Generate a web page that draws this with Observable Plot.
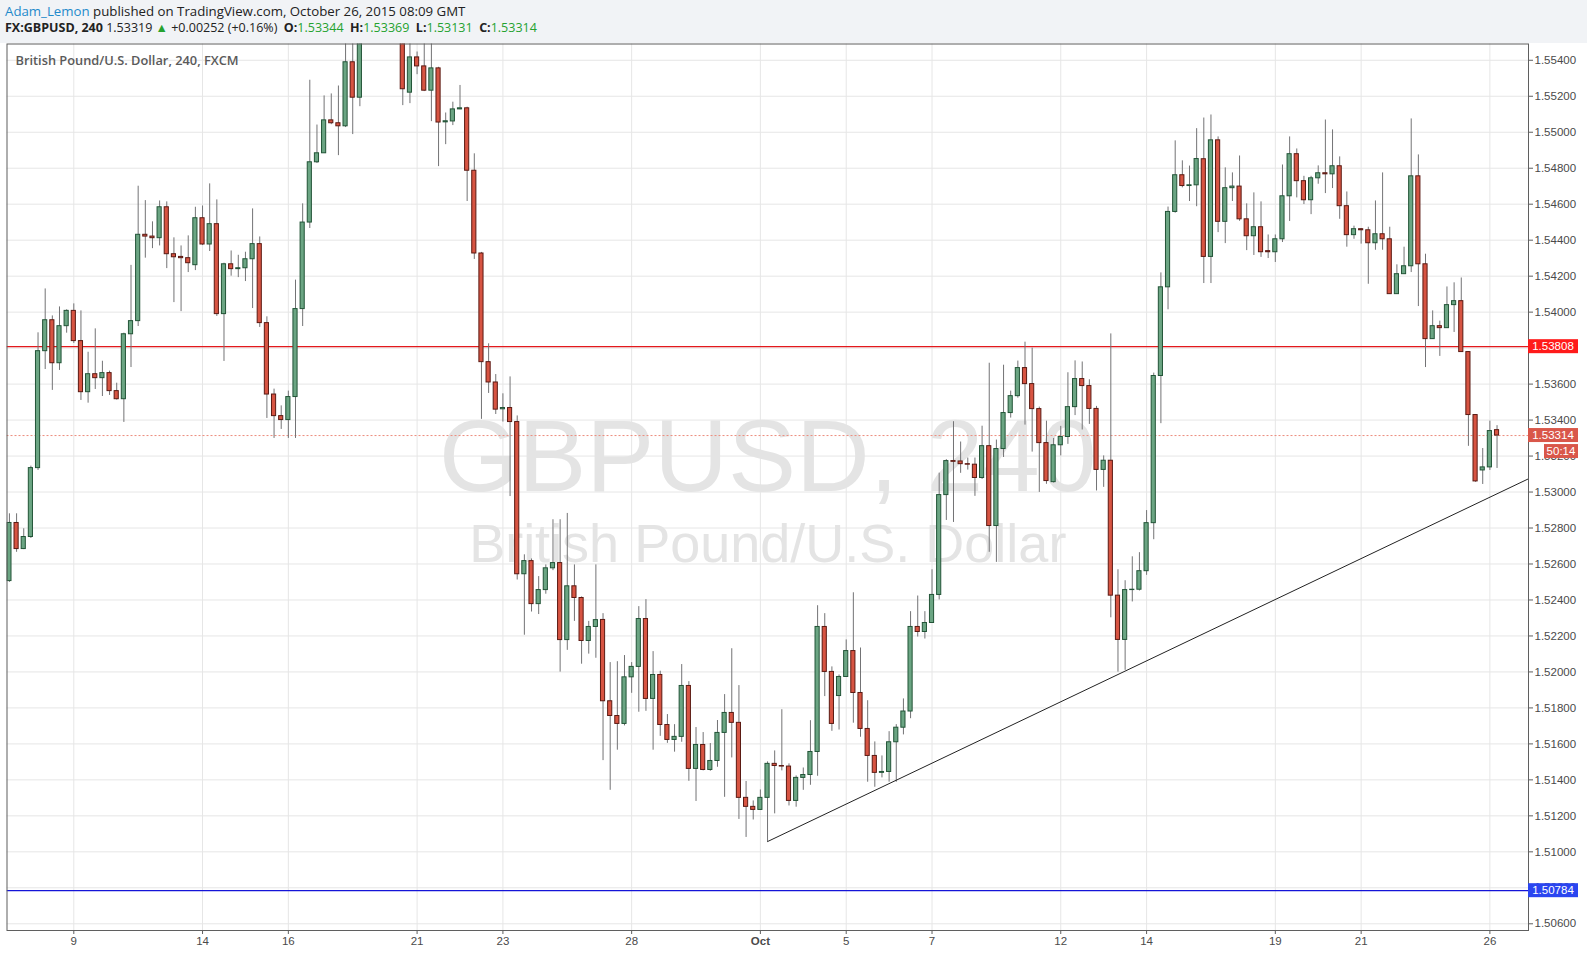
<!DOCTYPE html>
<html><head><meta charset="utf-8">
<script src="https://cdn.jsdelivr.net/npm/d3@7"></script>
<script src="https://cdn.jsdelivr.net/npm/@observablehq/plot@0.6"></script>
<style>
html,body{margin:0;padding:0;background:#f1f3f6;width:1587px;height:961px;overflow:hidden;}
#hdr{position:absolute;left:0;top:0;width:1587px;height:43px;font-family:"Open Sans",sans-serif;color:#222;white-space:nowrap;}
#l1{position:absolute;left:5px;top:2px;font-size:13.25px;}
#l2{position:absolute;left:5px;top:19px;font-size:12.5px;}
#l2 b{font-weight:700;}
.g{color:#25a22f;}
#chart{position:absolute;left:0;top:43px;}
</style></head><body>
<div id="hdr">
<div id="l1"><span style="color:#1f8acb">Adam_Lemon</span> published on TradingView.com, October 26, 2015 08:09 GMT</div>
<div id="l2"><b>FX:GBPUSD, 240</b> 1.53319 <span class="g">▲</span> +0.00252 (+0.16%) &nbsp;<b>O:</b><span class="g">1.53344</span> &nbsp;<b>H:</b><span class="g">1.53369</span> &nbsp;<b>L:</b><span class="g">1.53131</span> &nbsp;<b>C:</b><span class="g">1.53314</span></div>
</div>
<div id="chart"></div>
<script>
// ---- data: 4h candles, bar index = position in array ----
const opens = [
1.52505,1.52828,1.52683,1.52750,1.53133,1.53783,1.53955,1.53716,1.53922,1.54007,
1.53839,1.53555,1.53655,1.53633,1.53661,1.53561,1.53516,1.53877,1.53950,1.54430,
1.54420,1.54411,1.54583,1.54322,1.54307,1.54300,1.54261,1.54522,1.54376,1.54489,
1.53989,1.54266,1.54239,1.54244,1.54294,1.54378,1.53939,1.53542,1.53422,1.53400,
1.53528,1.54017,1.54498,1.54833,1.54883,1.55066,1.55050,1.55033,1.55389,1.55192,
1.55750,1.56050,1.56300,1.56000,1.55700,1.55560,1.55220,1.55416,1.55366,1.55231,
1.55355,1.55055,1.55060,1.55127,1.55133,1.54786,1.54326,1.53722,1.53609,1.53460,
1.53467,1.53389,1.52543,1.52616,1.52377,1.52455,1.52576,1.52605,1.52177,1.52476,
1.52411,1.52172,1.52250,1.52289,1.51837,1.51755,1.51711,1.51970,1.52028,1.52294,
1.51850,1.51983,1.51705,1.51622,1.51639,1.51922,1.51461,1.51594,1.51455,1.51505,
1.51661,1.51772,1.51717,1.51300,1.51250,1.51233,1.51300,1.51489,1.51477,1.51474,
1.51283,1.51411,1.51427,1.51555,1.52250,1.52000,1.51866,1.51972,1.52116,1.51883,
1.51683,1.51533,1.51439,1.51444,1.51609,1.51690,1.51780,1.52250,1.52222,1.52272,
1.52428,1.52983,1.53172,1.53170,1.53155,1.53152,1.53078,1.53255,1.52811,1.53239,
1.53439,1.53533,1.53689,1.53600,1.53461,1.53272,1.53055,1.53260,1.53306,1.53472,
1.53628,1.53589,1.53462,1.53123,1.53174,1.52424,1.52178,1.52455,1.52457,1.52560,
1.52827,1.53645,1.54138,1.54557,1.54761,1.54701,1.54705,1.54850,1.54307,1.54955,
1.54502,1.54689,1.54698,1.54516,1.54422,1.54472,1.54339,1.54333,1.54405,1.54644,
1.54878,1.54728,1.54622,1.54744,1.54772,1.54766,1.54811,1.54589,1.54428,1.54461,
1.54455,1.54383,1.54433,1.54405,1.54100,1.54211,1.54255,1.54755,1.54266,1.53850,
1.53922,1.53911,1.54039,1.54061,1.53778,1.53428,1.53120,1.53137,1.53344
];
const highs = [
1.52879,1.52879,1.52796,1.53144,1.53885,1.54129,1.53979,1.54029,1.54013,1.54046,
1.54007,1.53777,1.53907,1.53727,1.53672,1.53605,1.53883,1.54260,1.54700,1.54620,
1.54502,1.54618,1.54613,1.54413,1.54368,1.54424,1.54583,1.54590,1.54713,1.54624,
1.54272,1.54340,1.54316,1.54333,1.54574,1.54418,1.53974,1.53572,1.53479,1.53561,
1.54178,1.54602,1.55289,1.55040,1.55202,1.55213,1.55257,1.55600,1.55600,1.55900,
1.56200,1.56590,1.56400,1.56100,1.55800,1.55620,1.55530,1.55446,1.55520,1.55530,
1.55361,1.55107,1.55167,1.55260,1.55139,1.54880,1.54332,1.53824,1.53653,1.53546,
1.53640,1.53423,1.52651,1.52628,1.52530,1.52595,1.52846,1.52846,1.52881,1.52595,
1.52417,1.52281,1.52595,1.52324,1.52052,1.52057,1.52091,1.52052,1.52363,1.52402,
1.52113,1.52004,1.51763,1.51707,1.52041,1.51946,1.51691,1.51663,1.51602,1.51730,
1.51874,1.52129,1.51924,1.51391,1.51283,1.51344,1.51500,1.51561,1.51790,1.51489,
1.51422,1.51466,1.51729,1.52368,1.52324,1.52028,1.51983,1.52178,1.52440,1.52133,
1.51840,1.51611,1.51533,1.51668,1.51707,1.51850,1.52335,1.52422,1.52335,1.52568,
1.53105,1.53180,1.53391,1.53278,1.53189,1.53189,1.53366,1.53716,1.53289,1.53705,
1.53561,1.53728,1.53833,1.53800,1.53472,1.53394,1.53298,1.53365,1.53663,1.53729,
1.53723,1.53624,1.53476,1.53201,1.53879,1.52568,1.52507,1.52640,1.52663,1.52897,
1.53661,1.54218,1.54584,1.54952,1.54841,1.54812,1.55020,1.55079,1.55096,1.54974,
1.54802,1.54774,1.54868,1.54602,1.54663,1.54613,1.54429,1.54429,1.54818,1.54974,
1.54907,1.54755,1.54755,1.54813,1.55068,1.55013,1.54863,1.54668,1.54478,1.54465,
1.54472,1.54618,1.54774,1.54472,1.54263,1.54361,1.55074,1.54874,1.54322,1.54007,
1.53950,1.54140,1.54163,1.54190,1.53780,1.53430,1.53242,1.53394,1.53369
];
const lows = [
1.52498,1.52665,1.52680,1.52742,1.53120,1.53681,1.53565,1.53676,1.53883,1.53826,
1.53509,1.53494,1.53570,1.53531,1.53537,1.53511,1.53387,1.53692,1.53920,1.54300,
1.54353,1.54368,1.54242,1.54053,1.54003,1.54220,1.54231,1.54370,1.54337,1.53976,
1.53726,1.54200,1.54192,1.54170,1.54020,1.53915,1.53409,1.53298,1.53348,1.53298,
1.53298,1.53920,1.54465,1.54826,1.54883,1.55042,1.54870,1.55026,1.54987,1.55142,
1.55650,1.55950,1.55850,1.55600,1.55520,1.55148,1.55159,1.55320,1.55226,1.55059,
1.54809,1.54931,1.55037,1.55125,1.54615,1.54293,1.53404,1.53548,1.53431,1.53389,
1.52975,1.52511,1.52204,1.52333,1.52319,1.52432,1.52563,1.51999,1.52120,1.52281,
1.52043,1.52099,1.52076,1.51507,1.51342,1.51565,1.51700,1.51881,1.51776,1.51781,
1.51565,1.51642,1.51603,1.51554,1.51609,1.51392,1.51280,1.51450,1.51448,1.51470,
1.51303,1.51522,1.51180,1.51080,1.51177,1.51230,1.51057,1.51211,1.51450,1.51255,
1.51248,1.51342,1.51370,1.51420,1.51863,1.51670,1.51677,1.51970,1.51715,1.51637,
1.51387,1.51359,1.51411,1.51387,1.51387,1.51650,1.51740,1.52194,1.52183,1.52270,
1.52400,1.52842,1.52831,1.53104,1.53122,1.52976,1.53070,1.52665,1.52609,1.53192,
1.53411,1.53522,1.53372,1.53222,1.52998,1.53043,1.53050,1.53201,1.53265,1.53425,
1.53345,1.53376,1.53006,1.53026,1.52301,1.51999,1.52009,1.52389,1.52450,1.52537,
1.52735,1.53380,1.54013,1.54550,1.54691,1.54615,1.54586,1.54159,1.54159,1.54442,
1.54381,1.54615,1.54505,1.54342,1.54315,1.54304,1.54298,1.54276,1.54387,1.54504,
1.54635,1.54598,1.54542,1.54711,1.54659,1.54687,1.54516,1.54361,1.54405,1.54378,
1.54155,1.54344,1.54344,1.54100,1.54098,1.54209,1.54220,1.54031,1.53692,1.53848,
1.53754,1.53909,1.53887,1.53778,1.53254,1.53054,1.53042,1.53120,1.53131
];
const closes = [
1.52828,1.52683,1.52750,1.53133,1.53783,1.53955,1.53716,1.53922,1.54007,1.53839,
1.53555,1.53655,1.53633,1.53661,1.53561,1.53516,1.53877,1.53950,1.54430,1.54420,
1.54411,1.54583,1.54322,1.54305,1.54300,1.54272,1.54522,1.54376,1.54489,1.53989,
1.54266,1.54239,1.54244,1.54294,1.54378,1.53939,1.53542,1.53422,1.53400,1.53528,
1.54017,1.54498,1.54833,1.54883,1.55066,1.55050,1.55033,1.55389,1.55192,1.55750,
1.56050,1.56300,1.56000,1.55700,1.55560,1.55239,1.55416,1.55366,1.55231,1.55355,
1.55054,1.55061,1.55127,1.55133,1.54786,1.54326,1.53722,1.53609,1.53458,1.53467,
1.53389,1.52543,1.52616,1.52377,1.52455,1.52576,1.52605,1.52177,1.52476,1.52411,
1.52172,1.52250,1.52288,1.51837,1.51755,1.51711,1.51970,1.52028,1.52294,1.51850,
1.51983,1.51705,1.51622,1.51639,1.51922,1.51461,1.51594,1.51455,1.51505,1.51661,
1.51772,1.51717,1.51300,1.51250,1.51233,1.51300,1.51489,1.51477,1.51474,1.51283,
1.51411,1.51427,1.51555,1.52250,1.52000,1.51711,1.51972,1.52116,1.51883,1.51683,
1.51533,1.51439,1.51444,1.51609,1.51690,1.51780,1.52250,1.52222,1.52272,1.52428,
1.52983,1.53172,1.53168,1.53155,1.53152,1.53078,1.53255,1.52811,1.53239,1.53439,
1.53533,1.53689,1.53600,1.53461,1.53272,1.53061,1.53260,1.53306,1.53472,1.53628,
1.53589,1.53462,1.53123,1.53174,1.52424,1.52178,1.52455,1.52457,1.52560,1.52827,
1.53645,1.54138,1.54557,1.54761,1.54701,1.54705,1.54851,1.54307,1.54955,1.54502,
1.54689,1.54698,1.54516,1.54422,1.54472,1.54333,1.54333,1.54405,1.54644,1.54878,
1.54728,1.54622,1.54744,1.54772,1.54766,1.54811,1.54589,1.54428,1.54461,1.54455,
1.54383,1.54433,1.54405,1.54100,1.54211,1.54255,1.54755,1.54266,1.53850,1.53922,
1.53911,1.54039,1.54061,1.53778,1.53428,1.53059,1.53137,1.53339,1.53314
];
// day-label ticks (bar index of first bar of the trading day)
const tickBars   = [9, 27, 39, 57, 69, 87, 105, 117, 129, 147, 159, 177, 189, 207];
const tickLabels = ["9","14","16","21","23","28","Oct","5","7","12","14","19","21","26"];
const priceTicks = [1.506,1.508,1.510,1.512,1.514,1.516,1.518,1.520,1.522,1.524,1.526,1.528,1.530,
                    1.532,1.534,1.536,1.538,1.540,1.542,1.544,1.546,1.548,1.550,1.552,1.554];
const resistance = 1.53808;
const support = 1.50784;
const lastPrice = 1.53314;
const countdown = "50:14";
const trendBars = [106, 213];
const trendPrices = [1.51057, 1.53085];

const candles = opens.map((o, i) => ({i, o, h: highs[i], l: lows[i], c: closes[i], up: closes[i] >= o}));
const trend = trendBars.map((b, k) => ({b, p: trendPrices[k]}));
const labelOf = new Map(tickBars.map((b, k) => [b, tickLabels[k]]));
const dayBars = tickBars.filter(b => labelOf.get(b) !== "Oct");
const monthBars = tickBars.filter(b => labelOf.get(b) === "Oct");

const UPF = "#6ba583", UPS = "#225437", DNF = "#d75442", DNS = "#5b1a13";
const AX = "'Liberation Sans', Arial, sans-serif";

const chart = Plot.plot({
  width: 1587, height: 918,
  marginLeft: 6.5, marginRight: 59, marginTop: 0.5, marginBottom: 31,
  style: {background: "white", fontFamily: AX, overflow: "visible"},
  x: {type: "linear", domain: [-0.34, 212.4], axis: null},
  y: {type: "linear", domain: [1.505627, 1.554905], axis: null},
  marks: [
    Plot.gridY(priceTicks, {stroke: "#e6e6e6", strokeOpacity: 1}),
    Plot.gridX(tickBars, {stroke: "#e6e6e6", strokeOpacity: 1}),
    Plot.text(["GBPUSD, 240"], {frameAnchor: "middle", dy: -29, fontSize: 102, fill: "#e4e4e4", fontFamily: AX}),
    Plot.text(["British Pound/U.S. Dollar"], {frameAnchor: "middle", dy: 57, fontSize: 54, fill: "#e4e4e4", fontFamily: AX}),
    Plot.text(["British Pound/U.S. Dollar, 240, FXCM"], {frameAnchor: "top-left", dx: 8.5, dy: 17, lineAnchor: "middle", textAnchor: "start", fontSize: 12.8, fontWeight: 600, fill: "#5a5a5a", fontFamily: "'Open Sans', sans-serif"}),
    Plot.ruleY([resistance], {stroke: "#e3191c", strokeWidth: 1.2, clip: true}),
    Plot.ruleY([support], {stroke: "#1414d8", strokeWidth: 1.2, clip: true}),
    Plot.ruleY([lastPrice], {stroke: "#ec8c7c", strokeDasharray: "2,2", clip: true}),
    Plot.ruleX(candles, {x: "i", y1: "l", y2: "h", stroke: "#737375", strokeWidth: 1, clip: true}),
    Plot.rect(candles, {x1: d => d.i - 0.29, x2: d => d.i + 0.29, y1: "o", y2: "c",
      fill: d => d.up ? UPF : DNF, stroke: d => d.up ? UPS : DNS, strokeWidth: 1, clip: true}),
    Plot.line(trend, {x: "b", y: "p", stroke: "#222", strokeWidth: 1, clip: true}),
    Plot.frame({stroke: "#5f5f5f"}),
    Plot.axisY(priceTicks, {anchor: "right", tickSize: 4, tickPadding: 2, tickFormat: d => d.toFixed(5),
      fontSize: 11.5, stroke: "#5f5f5f", fill: "#4a4a4a"}),
    Plot.axisX(dayBars, {anchor: "bottom", tickSize: 4, tickPadding: 2, tickFormat: d => labelOf.get(d),
      fontSize: 11.5, stroke: "#5f5f5f", fill: "#4a4a4a"}),
    Plot.axisX(monthBars, {anchor: "bottom", tickSize: 4, tickPadding: 2, tickFormat: d => labelOf.get(d),
      fontSize: 11.5, fontWeight: "bold", stroke: "#5f5f5f", fill: "#4a4a4a"})
  ]
});
document.getElementById("chart").appendChild(chart);

// price tags on the right axis, placed through the plot's own y scale
const ys = chart.scale("y");
const xr = chart.scale("x").range[1];
const svg = d3.select(chart);
function tag(value, text, bg, offset, x0, w) {
  const cy = ys.apply(value) + offset;
  const g = svg.append("g");
  g.append("rect").attr("x", x0).attr("y", cy - 7).attr("width", w).attr("height", 14).attr("fill", bg);
  g.append("text").attr("x", x0 + w / 2).attr("y", cy).attr("dy", "0.36em").attr("text-anchor", "middle")
    .attr("fill", "white").attr("font-size", 11.5).attr("font-family", AX).text(text);
}
tag(resistance, resistance.toFixed(5), "#ff1a1a", 0, xr, 50);
tag(support, support.toFixed(5), "#2a45f0", 0, xr, 50);
tag(lastPrice, lastPrice.toFixed(5), "#d9574a", 0, xr, 50);
tag(lastPrice, countdown, "#d9574a", 16, xr + 16, 34);
</script>
</body></html>
